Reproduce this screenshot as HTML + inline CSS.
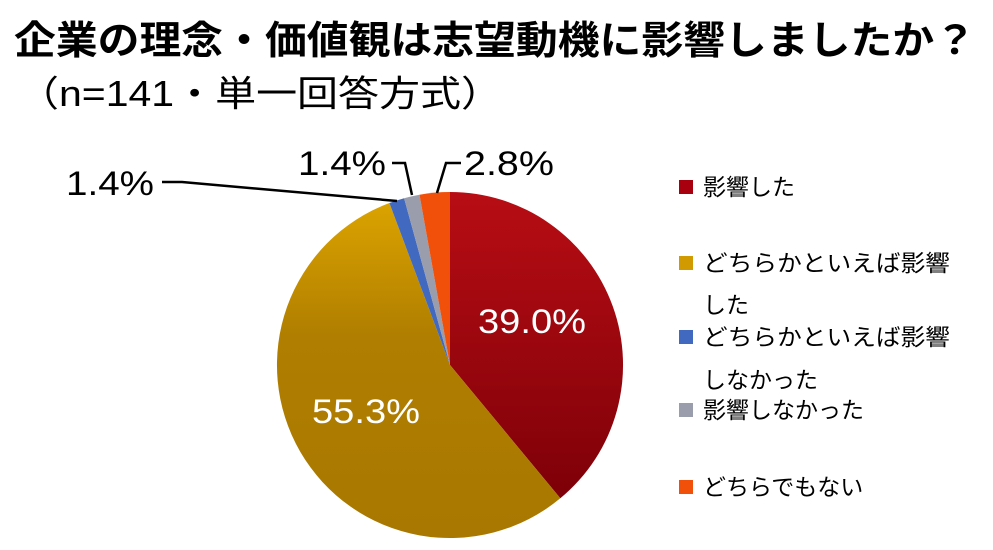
<!DOCTYPE html>
<html><head><meta charset="utf-8"><style>
body{margin:0;width:993px;height:550px;background:#fff;overflow:hidden;font-family:"Liberation Sans","Noto Sans CJK JP",sans-serif}
</style></head><body>
<svg width="993" height="550" xmlns="http://www.w3.org/2000/svg" style="position:absolute;left:0;top:0">
<defs>
<linearGradient id="r" x1="0" y1="0" x2="0" y2="1"><stop offset="0" stop-color="#b80d14"/><stop offset="1" stop-color="#7e0008"/></linearGradient>
<linearGradient id="g" x1="0" y1="0" x2="0" y2="1"><stop offset="0" stop-color="#dba300"/><stop offset="0.4" stop-color="#b07e00"/><stop offset="1" stop-color="#a87800"/></linearGradient>
</defs>
<text x="14" y="54" font-size="39" font-weight="bold" fill="#000" textLength="962" lengthAdjust="spacingAndGlyphs">企業の理念・価値観は志望動機に影響しましたか？</text>
<text x="18" y="106" font-size="36" fill="#000" textLength="484" lengthAdjust="spacingAndGlyphs">（n=141・単一回答方式）</text>
<g transform="translate(450,365)">
<path d="M0,0 L0,-173 A173,173 0 0 1 110.3,133.3 Z" fill="url(#r)"/>
<path d="M0,0 L110.3,133.3 A173,173 0 1 1 -60.6,-162.0 Z" fill="url(#g)"/>
<path d="M0,0 L-60.6,-162.0 A173,173 0 0 1 -45.9,-166.8 Z" fill="#4169c0"/>
<path d="M0,0 L-45.9,-166.8 A173,173 0 0 1 -30.5,-170.3 Z" fill="#9a9dab"/>
<path d="M0,0 L-30.5,-170.3 A173,173 0 0 1 0,-173 Z" fill="#f0500a"/>
</g>
<text x="478" y="333" font-size="34" fill="#fff" textLength="108" lengthAdjust="spacingAndGlyphs">39.0%</text>
<text x="312" y="423" font-size="34" fill="#fff" textLength="108" lengthAdjust="spacingAndGlyphs">55.3%</text>
<g fill="none" stroke="#000" stroke-width="2.5">
<polyline points="162,182 182,182 397,201"/>
<polyline points="392,163 405,163 412,195"/>
<polyline points="437,193 446,163 461,163"/>
</g>
<g font-size="34" fill="#000">
<text x="66" y="195" textLength="88" lengthAdjust="spacingAndGlyphs">1.4%</text>
<text x="298" y="175" textLength="88" lengthAdjust="spacingAndGlyphs">1.4%</text>
<text x="464" y="175" textLength="90" lengthAdjust="spacingAndGlyphs">2.8%</text>
</g>
<g font-size="23" fill="#000">
<rect x="679" y="180" width="14" height="14" fill="#a8000e"/>
<text x="703" y="195">影響した</text>
<rect x="679" y="256" width="14" height="14" fill="#d09a00"/>
<text x="703" y="271" textLength="247" lengthAdjust="spacingAndGlyphs">どちらかといえば影響</text>
<text x="703" y="313">した</text>
<rect x="679" y="330" width="14" height="14" fill="#4169c0"/>
<text x="703" y="345" textLength="247" lengthAdjust="spacingAndGlyphs">どちらかといえば影響</text>
<text x="703" y="388">しなかった</text>
<rect x="679" y="403" width="14" height="14" fill="#9a9dab"/>
<text x="703" y="418">影響しなかった</text>
<rect x="679" y="480" width="14" height="14" fill="#f0500a"/>
<text x="703" y="495">どちらでもない</text>
</g>
</svg>
</body></html>
